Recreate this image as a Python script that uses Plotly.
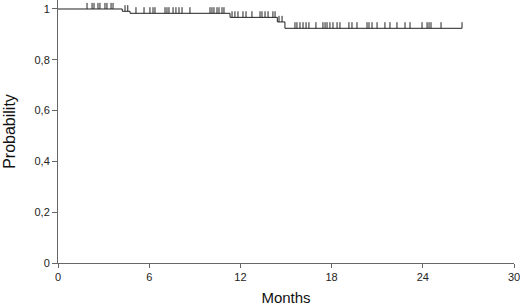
import plotly.graph_objects as go

# Kaplan-Meier step curve: step times (months) and survival probability after each step
step_times = [0, 4.23, 4.74, 11.32, 14.43, 14.93]
step_surv = [1.0, 0.991, 0.983, 0.967, 0.949, 0.924]
end_time = 26.58

# Censored observation times (months)
censor_times = [1.91, 2.24, 2.37, 2.63, 2.76, 3.09, 3.22, 3.49, 3.62,
                4.41, 4.59,
                5.13, 5.66, 6.05, 6.25, 6.38, 7.04, 7.17, 7.30, 7.57, 7.76, 7.96, 8.16, 8.68,
                10.0, 10.13, 10.26, 10.46, 10.59, 10.79, 10.92,
                11.45, 11.64, 11.84, 12.17, 12.37, 12.76, 13.29, 13.42, 13.62, 13.82, 14.14, 14.28,
                14.54, 14.74,
                15.59, 15.72, 15.92, 16.12, 16.32, 16.51, 16.97, 17.43, 17.57, 17.70, 17.89, 18.09,
                18.36, 18.55, 19.14, 19.34, 19.67, 20.33, 20.46, 20.66, 20.99, 21.51, 21.84, 22.30,
                22.83, 23.16, 23.95, 24.28, 24.41, 24.54, 25.20, 26.58]
censor_tick_height = 0.024

x_ticks = [0, 6, 12, 18, 24, 30]
y_ticks = [0, 0.2, 0.4, 0.6, 0.8, 1.0]
y_tick_text = ["0", "0,2", "0,4", "0,6", "0,8", "1"]

# build step line
xs, ys = [], []
for i, t in enumerate(step_times):
    if i > 0:
        xs.append(t); ys.append(step_surv[i - 1])
    xs.append(t); ys.append(step_surv[i])
xs.append(end_time); ys.append(step_surv[-1])

def surv_at(t):
    s = step_surv[0]
    for st, sv in zip(step_times, step_surv):
        if t >= st:
            s = sv
    return s

# censor marks as short vertical segments above the curve
cx, cy = [], []
for t in censor_times:
    s = surv_at(t)
    cx += [t, t, None]
    cy += [s, s + censor_tick_height, None]

fig = go.Figure()
fig.add_trace(go.Scatter(x=xs, y=ys, mode="lines",
                         line=dict(color="#222222", width=1),
                         hoverinfo="skip", showlegend=False))
fig.add_trace(go.Scatter(x=cx, y=cy, mode="lines",
                         line=dict(color="#222222", width=1),
                         hoverinfo="skip", showlegend=False))

font_family = "Liberation Sans, Arial, sans-serif"
axis_font = dict(family=font_family, size=11, color="#222222")
fig.update_layout(
    width=520, height=307,
    margin=dict(l=58, r=6, t=0, b=44),
    paper_bgcolor="white", plot_bgcolor="white",
    xaxis=dict(range=[0, 30], tickvals=x_ticks, ticks="outside", ticklen=4,
               tickcolor="#666666", showline=True, linecolor="#666666", linewidth=1,
               showgrid=False, zeroline=False, tickfont=axis_font, automargin=False,
               ticklabeloverflow="allow",
               title=dict(text="Months", standoff=10,
                          font=dict(family=font_family, size=15, color="#111111"))),
    yaxis=dict(range=[0, 1.0354], tickvals=y_ticks, ticktext=y_tick_text, ticks="outside", ticklen=5,
               tickcolor="#666666", showline=True, linecolor="#666666", linewidth=1,
               showgrid=False, zeroline=False, tickfont=axis_font, automargin=False,
               ticklabeloverflow="allow",
               title=dict(text="Probability", standoff=14,
                          font=dict(family=font_family, size=16, color="#111111"))),
)
fig.write_html("out.html", config={"displayModeBar": False},
               post_script="document.body.style.margin='0';")
